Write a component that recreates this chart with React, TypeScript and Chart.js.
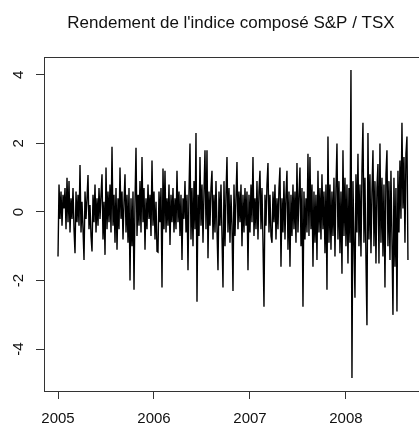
import { useEffect, useRef } from 'react';
import { Chart, registerables } from 'chart.js';

Chart.register(...registerables);

const chartTitle = "Rendement de l'indice composé S&P / TSX";
const startYear = 2005;
const pointsPerYear = 96;
const xTicks = [2005, 2006, 2007, 2008];
const yTicks = [-4, -2, 0, 2, 4];
const xRange = [2004.854, 2008.813];
const yRange = [-5.22, 4.52];

const returns: number[] = [
  -1.3, 0.8, -0.2, 0.6, -0.4, 0.5, 0.1, 0.7, -0.5, 1.0,
  -0.3, 0.9, -0.6, 0.4, -0.2, 0.7, -0.5, -1.2, 0.6, -0.3,
  0.5, -0.4, 1.37, -0.6, 0.3, -0.5, -1.4, 0.6, -0.2, 0.4,
  1.08, -0.5, 0.2, -0.7, -1.15, 0.5, -0.3, 0.8, -0.6, 0.4,
  -0.4, 0.7, -0.2, 0.5, 1.1, -0.8, 0.3, -1.25, 1.3, -0.5,
  0.6, -0.3, 0.8, -0.6, 1.9, -0.4, 0.5, -0.9, 0.7, -1.1,
  0.4, -0.5, 1.3, -0.2, 0.6, -0.8, 0.3, 1.1, -0.6, 0.5,
  -0.9, 0.7, -2.0, 0.4, -1.0, 0.6, -2.27, 0.3, 1.87, -0.7,
  0.5, -0.4, 0.9, -0.6, 1.6, -0.3, 0.7, -1.1, 0.4, -0.5,
  0.8, -0.2, 0.5, -0.7, 1.5, -0.4, 0.6, -0.8, 0.3, -1.15,
  -1.17, 0.6, -0.3, 0.7, -2.2, 1.27, -0.5, 1.2, -0.6, 0.4,
  -0.4, 0.8, -0.96, 0.5, -0.3, 0.7, -0.6, 0.4, -0.5, 1.2,
  -0.3, 0.6, -0.7, 0.5, -1.4, 0.4, -0.2, 0.9, -0.6, 0.5,
  -1.7, 0.6, 2.0, -0.8, 0.7, -1.0, 0.9, -0.5, 2.3, -2.62,
  0.5, -0.7, 1.6, -0.4, 0.8, -0.9, 0.6, 1.8, -0.5, 1.8,
  -1.35, 0.6, -0.4, 0.7, 1.2, -0.8, 0.5, -0.6, 0.9, -0.5,
  -1.7, 0.6, -0.4, 0.8, -0.7, -2.2, 0.9, -1.0, 0.5, 1.6,
  -0.6, 0.7, -0.9, 0.5, -0.4, -2.3, 0.8, -0.7, 0.4, 1.46,
  -0.5, 0.6, -0.3, 0.8, -1.0, 0.5, -0.6, 0.7, -0.4, 0.6,
  -1.7, 0.5, -0.6, 0.8, -0.3, 1.6, -0.7, 0.4, -0.5, 0.9,
  -0.8, 0.6, 1.2, -0.5, 0.7, -0.9, -2.76, 0.5, -0.4, 0.8,
  1.43, -0.6, 0.5, -0.7, -0.9, 0.6, -0.3, 0.8, -0.8, 0.4,
  -0.5, 0.7, 1.3, -1.6, 0.4, -0.6, 0.9, -0.8, 0.5, 1.2,
  -1.1, 0.6, -1.6, 0.5, -0.7, 0.8, -0.5, 0.6, -0.9, 1.43,
  -0.6, 0.5, 1.3, -1.0, 0.7, -2.76, 0.6, -0.8, 0.4, -0.6,
  1.7, -0.7, 1.6, -0.5, 0.8, -1.6, 0.6, -0.9, 0.5, -1.4,
  1.2, -0.6, 0.7, -0.8, 1.1, -0.5, 0.6, -1.2, 0.8, -2.27,
  2.2, -0.9, 0.8, -1.1, 0.6, -0.7, 1.0, -1.3, 0.7, 2.0,
  -0.8, 0.9, -1.2, 0.6, -1.8, 1.8, -0.7, 1.0, -1.0, 0.8,
  -1.5, 0.7, -0.9, 4.14, -4.84, 0.9, -0.8, -2.5, 1.1, -0.6,
  1.7, -1.0, 0.8, -1.3, 1.2, 2.6, -0.9, 1.0, -1.4, -3.3,
  2.3, -0.8, 1.1, -1.2, 0.6, 1.8, -1.0, 0.9, -1.5, 0.7,
  1.4, -1.5, 2.0, -0.9, 1.0, -1.3, 0.8, -2.2, 1.1, 1.8,
  -1.0, 0.9, -1.4, 1.2, -0.8, -3.0, 1.0, -1.6, 0.7, -2.9,
  1.2, -0.6, 1.5, -0.2, 2.6, 0.1, 1.6, -0.9, 1.7, 2.2,
  -1.4,
];

const FONT = '"Liberation Sans", Arial, Helvetica, sans-serif';
const AXIS_COLOR = '#333';
const TEXT_COLOR = '#111';

export default function App() {
  const ref = useRef<HTMLCanvasElement>(null);

  useEffect(() => {
    const canvas = ref.current;
    if (!canvas) return;
    const data = returns.map((v, i) => ({ x: startYear + i / pointsPerYear, y: v }));

    const framePlugin = {
      id: 'frameAndTitle',
      afterDraw(chart: any) {
        const { ctx, chartArea: a } = chart;
        ctx.save();
        ctx.strokeStyle = AXIS_COLOR;
        ctx.lineWidth = 1;
        ctx.strokeRect(a.left + 0.5, a.top + 0.5, a.right - a.left, a.bottom - a.top);
        ctx.fillStyle = TEXT_COLOR;
        ctx.font = `17px ${FONT}`;
        ctx.textAlign = 'center';
        ctx.textBaseline = 'middle';
        ctx.fillText(chartTitle, (a.left + a.right) / 2 - 3, 23);
        ctx.restore();
      },
    };

    const chart = new Chart(canvas, {
      type: 'line',
      data: {
        datasets: [
          {
            data,
            borderColor: '#000',
            borderWidth: 1.4,
            pointRadius: 0,
            tension: 0,
            fill: false,
          },
        ],
      },
      options: {
        responsive: false,
        animation: false,
        parsing: false as any,
        layout: { padding: { top: 57, right: 2, left: 0, bottom: 0 } },
        plugins: {
          legend: { display: false },
          tooltip: { enabled: false },
          title: { display: false },
        },
        scales: {
          x: {
            type: 'linear',
            min: xRange[0],
            max: xRange[1],
            afterBuildTicks: (s: any) => {
              s.ticks = xTicks.map((v) => ({ value: v }));
            },
            afterFit: (s: any) => {
              s.height = 35;
            },
            grid: { drawOnChartArea: false, tickLength: 8, color: AXIS_COLOR },
            border: { color: AXIS_COLOR },
            ticks: {
              font: { family: FONT, size: 15 },
              color: TEXT_COLOR,
              padding: 11,
              maxRotation: 0,
              autoSkip: false,
              callback: (v: any) => String(v),
            },
          },
          y: {
            type: 'linear',
            min: yRange[0],
            max: yRange[1],
            afterBuildTicks: (s: any) => {
              s.ticks = yTicks.map((v) => ({ value: v }));
            },
            afterFit: (s: any) => {
              s.width = 44;
            },
            grid: { drawOnChartArea: false, tickLength: 8, color: AXIS_COLOR },
            border: { color: AXIS_COLOR },
            ticks: {
              font: { family: FONT, size: 15 },
              color: TEXT_COLOR,
              padding: 10,
              minRotation: 90,
              maxRotation: 90,
              crossAlign: 'center',
              autoSkip: false,
              callback: (v: any) => String(v),
            },
          },
        },
      },
      plugins: [framePlugin],
    });
    return () => chart.destroy();
  }, []);

  return (
    <div
      style={{
        position: 'fixed',
        left: 0,
        top: 0,
        width: 419,
        height: 426,
        overflow: 'hidden',
        background: '#fff',
      }}
    >
      <canvas ref={ref} width={426} height={426} style={{ display: 'block' }} />
    </div>
  );
}
